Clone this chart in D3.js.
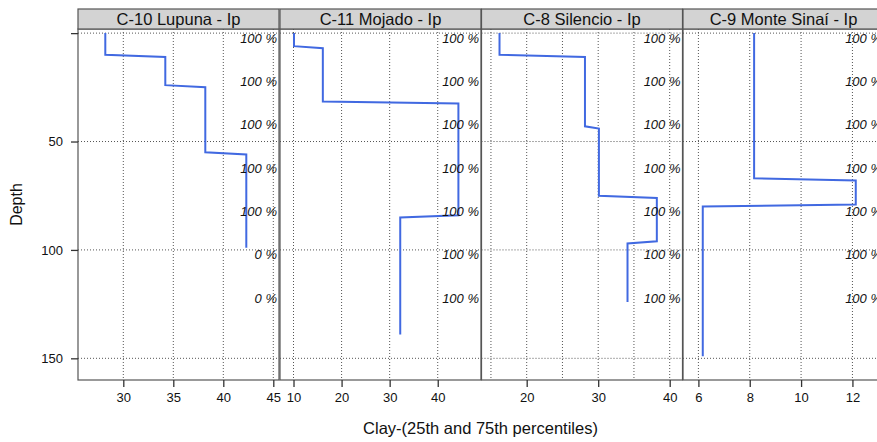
<!DOCTYPE html>
<html>
<head>
<meta charset="utf-8">
<script src="https://cdn.jsdelivr.net/npm/d3@7"></script>
<style>
  body { margin: 0; background: #fff; }
  svg { display: block; font-family: "Liberation Sans", Arial, sans-serif; }
</style>
</head>
<body>
<svg id="chart" width="877" height="442"></svg>
<script>
// ---- data ----
const panelTitles = ["C-10 Lupuna - Ip", "C-11 Mojado - Ip", "C-8 Silencio - Ip", "C-9 Monte Sinaí - Ip"];

const lupunaDepth = [0, 10, 11, 24, 25, 55, 56, 99];
const lupunaClay  = [28.2, 28.2, 34.2, 34.2, 38.2, 38.2, 42.3, 42.3];

const mojadoDepth = [0, 6, 7, 31.5, 32.5, 84, 85, 139];
const mojadoClay  = [10.1, 10.1, 16.1, 16.1, 44.3, 44.3, 32.2, 32.2];

const silencioDepth = [0, 10, 11, 43, 44, 75, 76, 96, 97, 124];
const silencioClay  = [16.2, 16.2, 28.15, 28.15, 30.1, 30.1, 38.2, 38.2, 34.1, 34.1];

const sinaiDepth = [0, 67, 68, 79, 80, 149];
const sinaiClay  = [8.17, 8.17, 12.13, 12.13, 6.17, 6.17];

const labelDepths = [2.3, 22.3, 42.3, 62.3, 82.3, 102.3, 122.3];
const lupunaPct   = ["100 %", "100 %", "100 %", "100 %", "100 %", "0 %", "0 %"];
const mojadoPct   = ["100 %", "100 %", "100 %", "100 %", "100 %", "100 %", "100 %"];
const silencioPct = ["100 %", "100 %", "100 %", "100 %", "100 %", "100 %", "100 %"];
const sinaiPct    = ["100 %", "100 %", "100 %", "100 %", "100 %", "100 %", "100 %"];

const xDomains = [[25.47, 45.57], [7.19, 49.0], [13.68, 41.79], [5.40, 13.23]];
const xTicks   = [[30, 35, 40, 45], [10, 20, 30, 40], [20, 30, 40], [6, 8, 10, 12]];
const xGrid    = [[30, 35, 40, 45], [10, 20, 30, 40], [15, 20, 25, 30, 35, 40], [6, 8, 10, 12]];
const yTicks   = [0, 50, 100, 150];
const yTickLabels = ["", "50", "100", "150"];
const yDomain  = [-1.9, 160];

const xTitle = "Clay-(25th and 75th percentiles)";
const yTitle = "Depth";

// ---- layout ----
const panelLeft = [78, 280, 481.5, 683];
const panelW = 201;
const plotTop = 29, plotBottom = 380, stripTop = 9;
const lineColor = "#4169E1";

const panels = [
  {depth: lupunaDepth, clay: lupunaClay, pct: lupunaPct},
  {depth: mojadoDepth, clay: mojadoClay, pct: mojadoPct},
  {depth: silencioDepth, clay: silencioClay, pct: silencioPct},
  {depth: sinaiDepth, clay: sinaiClay, pct: sinaiPct}
];

const svg = d3.select("#chart");
const y = d3.scaleLinear().domain(yDomain).range([plotTop, plotBottom]);
const defs = svg.append("defs");

panels.forEach((p, i) => {
  const x0 = panelLeft[i];
  const x = d3.scaleLinear().domain(xDomains[i]).range([x0, x0 + panelW]);
  const g = svg.append("g");

  defs.append("clipPath").attr("id", "clip" + i)
    .append("rect").attr("x", x0).attr("y", plotTop).attr("width", panelW).attr("height", plotBottom - plotTop);

  const inner = g.append("g").attr("clip-path", `url(#clip${i})`);

  // grid
  inner.selectAll(".hg").data(yTicks).join("line")
    .attr("x1", x0).attr("x2", x0 + panelW)
    .attr("y1", d => y(d)).attr("y2", d => y(d))
    .attr("stroke", "#555").attr("stroke-width", 1).attr("stroke-dasharray", "1,2");
  inner.selectAll(".vg").data(xGrid[i]).join("line")
    .attr("x1", d => x(d)).attr("x2", d => x(d))
    .attr("y1", plotTop).attr("y2", plotBottom)
    .attr("stroke", "#555").attr("stroke-width", 1).attr("stroke-dasharray", "1,2");

  // profile line
  const pts = p.depth.map((d, k) => [p.clay[k], d]);
  inner.append("path")
    .datum(pts)
    .attr("fill", "none").attr("stroke", lineColor).attr("stroke-width", 2)
    .attr("d", d3.line().x(d => x(d[0])).y(d => y(d[1])));

  // percentage labels
  inner.selectAll(".pct").data(p.pct).join("text")
    .attr("x", x0 + panelW - 2)
    .attr("y", (d, k) => y(labelDepths[k]))
    .attr("dy", "0.35em")
    .attr("text-anchor", "end")
    .attr("font-style", "italic")
    .attr("font-size", 13)
    .attr("fill", "#111")
    .text(d => d);

  // panel box
  g.append("rect").attr("x", x0).attr("y", plotTop).attr("width", panelW).attr("height", plotBottom - plotTop)
    .attr("fill", "none").attr("stroke", "#555").attr("stroke-width", 1.2);

  // strip
  g.append("rect").attr("x", x0).attr("y", stripTop).attr("width", panelW).attr("height", plotTop - stripTop)
    .attr("fill", "#d3d3d3").attr("stroke", "#555").attr("stroke-width", 1.2);
  g.append("text").attr("x", x0 + panelW / 2).attr("y", (stripTop + plotTop) / 2)
    .attr("dy", "0.36em").attr("text-anchor", "middle").attr("font-size", 16.5).attr("fill", "#111")
    .text(panelTitles[i]);

  // x axis
  const ax = d3.axisBottom(x).tickValues(xTicks[i]).tickSize(7).tickSizeOuter(0).tickPadding(6).tickFormat(d3.format("d"));
  const axg = g.append("g").attr("transform", `translate(0,${plotBottom})`).call(ax);
  axg.select(".domain").remove();
  axg.selectAll(".tick line").attr("stroke", "#333").attr("stroke-width", 1.3);
  axg.selectAll(".tick text").attr("font-size", 13).attr("fill", "#111")
    .attr("font-family", "'Liberation Sans', Arial, sans-serif");
});

// y axis
const ay = d3.axisLeft(y).tickValues(yTicks).tickSize(7).tickSizeOuter(0).tickPadding(8)
  .tickFormat((d, k) => yTickLabels[k]);
const ayg = svg.append("g").attr("transform", `translate(${panelLeft[0]},0)`).call(ay);
ayg.select(".domain").remove();
ayg.selectAll(".tick line").attr("stroke", "#333").attr("stroke-width", 1.3);
ayg.selectAll(".tick text").attr("font-size", 13).attr("fill", "#111")
  .attr("font-family", "'Liberation Sans', Arial, sans-serif");

// titles
svg.append("text").attr("x", 480.5).attr("y", 428).attr("dy", "0.35em")
  .attr("text-anchor", "middle").attr("font-size", 16.5).attr("fill", "#111").text(xTitle);
svg.append("text").attr("transform", `translate(16,${(plotTop + plotBottom) / 2}) rotate(-90)`)
  .attr("dy", "0.35em").attr("text-anchor", "middle").attr("font-size", 16).attr("fill", "#111").text(yTitle);
</script>
</body>
</html>
